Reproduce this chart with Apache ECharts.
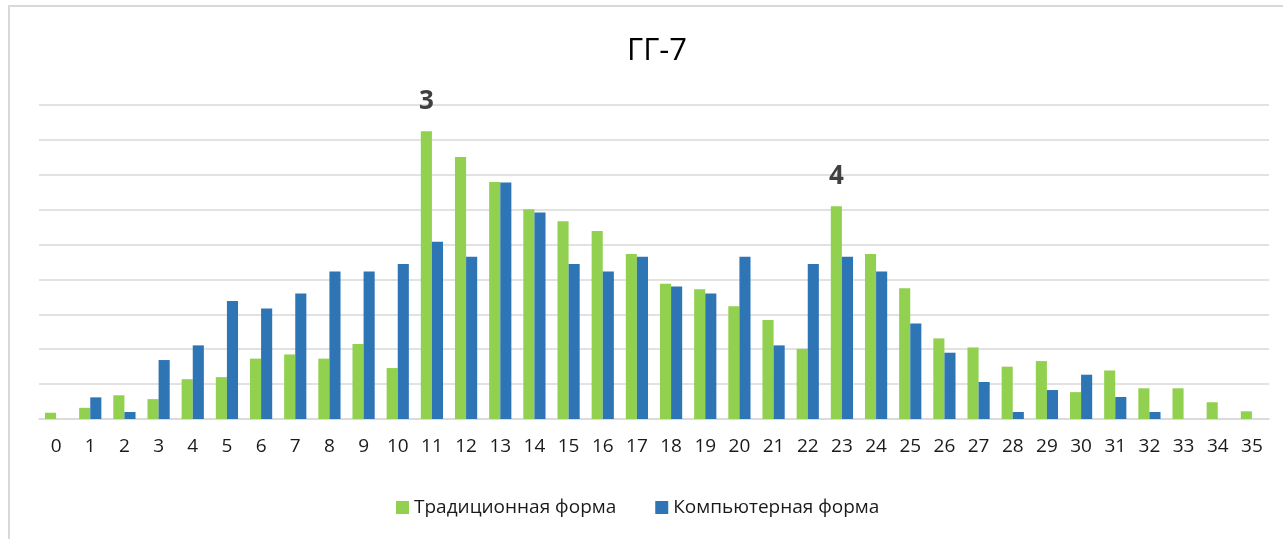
<!DOCTYPE html>
<html>
<head>
<meta charset="utf-8">
<script src="https://cdn.jsdelivr.net/npm/echarts@6/dist/echarts.min.js"></script>
<style>
  html, body { margin: 0; padding: 0; background: #ffffff; }
  #chart { width: 1283px; height: 539px; }
</style>
</head>
<body>
<div id="chart"></div>
<script>
// Score categories 0..35
const categories = ['0','1','2','3','4','5','6','7','8','9','10','11','12','13','14','15','16','17',
  '18','19','20','21','22','23','24','25','26','27','28','29','30','31','32','33','34','35'];

// Share of participants per score, paper form
const traditional = [0.18, 0.32, 0.68, 0.57, 1.14, 1.20, 1.73, 1.85, 1.73, 2.15, 1.46, 8.25,
  7.51, 6.79, 6.01, 5.67, 5.39, 4.73, 3.88, 3.72, 3.23, 2.84, 2.01, 6.10,
  4.73, 3.75, 2.31, 2.05, 1.50, 1.66, 0.77, 1.39, 0.88, 0.88, 0.48, 0.22];

// Share of participants per score, computer form
const computer = [0, 0.62, 0.20, 1.69, 2.11, 3.38, 3.17, 3.60, 4.23, 4.23, 4.44, 5.08,
  4.65, 6.78, 5.92, 4.44, 4.23, 4.65, 3.80, 3.60, 4.65, 2.11, 4.44, 4.65,
  4.23, 2.74, 1.90, 1.06, 0.20, 0.83, 1.27, 0.63, 0.20, 0, 0, 0];

// Peak markers placed over the paper-form bars
const peakCategories = [11, 23];
const peakTags = ['3', '4'];

const seriesNames = ['Традиционная форма', 'Компьютерная форма'];

const FONT = '"Open Sans", "Liberation Sans", sans-serif';

const traditionalData = traditional.map((v, i) => {
  const k = peakCategories.indexOf(i);
  if (k < 0) return v;
  return {
    value: v,
    label: {
      show: true,
      position: 'top',
      distance: 17,
      formatter: peakTags[k],
      fontFamily: FONT,
      fontWeight: 'bold',
      fontSize: 26,
      color: '#404040'
    }
  };
});

const chart = echarts.init(document.getElementById('chart'), null, { renderer: 'canvas' });

chart.setOption({
  animation: false,
  backgroundColor: '#ffffff',
  title: {
    text: 'ГГ-7',
    left: 652,
    textAlign: 'center',
    top: 31,
    textStyle: { fontFamily: FONT, fontWeight: 'normal', fontSize: 31, color: '#000000' }
  },
  graphic: [{
    type: 'rect',
    shape: { x: 9, y: 6, width: 1400, height: 600 },
    style: { fill: 'none', stroke: '#d9d9d9', lineWidth: 2 },
    silent: true,
    z: -10
  }],
  legend: {
    left: 391,
    top: 493,
    itemWidth: 13,
    itemHeight: 13,
    itemGap: 39,
    icon: 'rect',
    textStyle: { fontFamily: FONT, fontSize: 19, color: '#1a1a1a' },
    data: seriesNames
  },
  grid: { left: 39, right: 14, top: 105, bottom: 120 },
  xAxis: {
    type: 'category',
    data: categories,
    axisLine: { lineStyle: { color: '#d9d9d9', width: 1.5 } },
    axisTick: { show: false },
    axisLabel: { fontFamily: FONT, fontSize: 19, color: '#1a1a1a', margin: 18, interval: 0 }
  },
  yAxis: {
    type: 'value',
    min: 0,
    max: 9,
    interval: 1,
    axisLabel: { show: false },
    axisLine: { show: false },
    axisTick: { show: false },
    splitLine: { lineStyle: { color: '#d9d9d9', width: 1.5 } }
  },
  series: [
    {
      name: seriesNames[0],
      type: 'bar',
      data: traditionalData,
      itemStyle: { color: '#92d050' },
      barGap: '0%',
      barCategoryGap: '35%'
    },
    {
      name: seriesNames[1],
      type: 'bar',
      data: computer,
      itemStyle: { color: '#2e75b6' },
      barGap: '0%',
      barCategoryGap: '35%'
    }
  ]
});
</script>
</body>
</html>
